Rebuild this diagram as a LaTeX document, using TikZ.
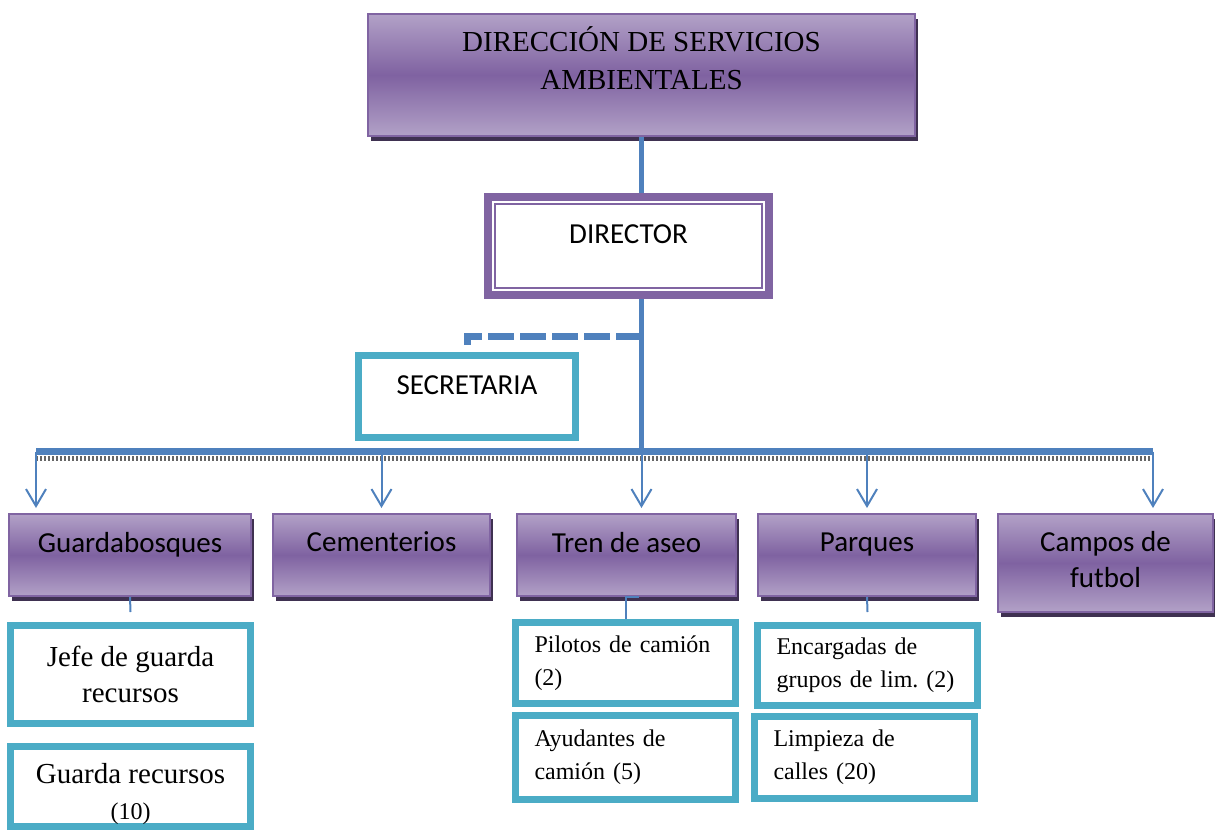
\documentclass[tikz,border=0pt]{standalone}
\usepackage{fontspec}
\setmainfont{Liberation Serif}
\setsansfont{Carlito}
\usetikzlibrary{arrows.meta, shadows}

\definecolor{lilaclaro}{HTML}{B2A1C7}
\definecolor{lilaoscuro}{HTML}{7F62A1}
\definecolor{lilaborde}{HTML}{8064A2}
\definecolor{sombra}{HTML}{3F3151}
\definecolor{azul}{HTML}{4F81BD}
\definecolor{turquesa}{HTML}{4BACC6}

\begin{document}
\begin{tikzpicture}[
    x=0.5pt, y=-0.5pt,
    >={Straight Barb[length=8.5pt, width=10pt]},
    unidad/.style={draw=lilaborde, line width=1pt, top color=lilaclaro, bottom color=lilaclaro, middle color=lilaoscuro,
        drop shadow={shadow xshift=1.5pt, shadow yshift=-2.5pt, fill=sombra, opacity=1},
        inner sep=0pt, align=center, minimum height=41pt, text depth=13pt, font=\sffamily\fontsize{14.5}{18}\selectfont},
    direccion/.style={unidad, font=\fontsize{14.5}{19}\selectfont, text depth=17pt},
    director/.style={draw=lilaborde, line width=4pt, fill=white, inner sep=0pt, text depth=12pt, font=\sffamily\fontsize{14.5}{18}\selectfont},
    directorint/.style={draw=lilaborde, line width=1pt},
    cuadro/.style={draw=turquesa, line width=3.5pt, fill=white, inner sep=0pt, align=center, font=\fontsize{14.5}{18}\selectfont},
    cuadrochico/.style={cuadro, align=left, text width=91pt, inner xsep=9.5pt, minimum width=110pt, font=\frenchspacing\fontsize{12}{16.5}\selectfont},
    enlace/.style={draw=azul, line width=2.5pt},
    punteado/.style={draw=azul, line width=3.5pt, dash pattern=on 13pt off 3pt},
    barra/.style={draw=azul, line width=3.5pt},
    barratrama/.style={draw=black!60, line width=2.5pt, dash pattern=on 1.2pt off 0.8pt},
    flecha/.style={->, draw=azul, line width=1pt, shorten >=2.5pt},
    tramo/.style={draw=azul, line width=1pt}
]

\useasboundingbox (0,0) rectangle (1215,830);

% ===== Dirección y director =====
\node[direccion, minimum width=273.5pt, minimum height=61pt] (direccion) at (641.5,75) {DIRECCIÓN DE SERVICIOS\\AMBIENTALES};

\node[director, minimum width=140.5pt, minimum height=49pt] (director) at (628.5,246) {DIRECTOR};
\draw[directorint] ([shift={(5.5pt,5.5pt)}]director.south west) rectangle ([shift={(-5.5pt,-5.5pt)}]director.north east);

\node[cuadro, minimum width=108.5pt, minimum height=41pt, text depth=11pt, font=\sffamily\fontsize{14.5}{18}\selectfont] (secretaria) at (467,396.5) {SECRETARIA};

% Puntos de la barra
\coordinate (cruce) at (641.5,336);
\coordinate (barraizq) at (36,451.5);
\coordinate (barrader) at (1153,451.5);

% ===== Unidades =====
\node[unidad, minimum width=121pt] (guardabosques) at (130,555) {Guardabosques};
\node[unidad, minimum width=108.5pt] (cementerios) at (381.5,555) {Cementerios};
\node[unidad, minimum width=109.5pt] (tren) at (626.5,555) {Tren de aseo};
\node[unidad, minimum width=109pt] (parques) at (867,555) {Parques};
\node[unidad, minimum width=107.5pt, minimum height=49pt, text depth=4pt] (campos) at (1105.5,563) {Campos de\\futbol};

% ===== Personal =====
\node[cuadro, minimum width=120pt, minimum height=49pt] (jefe) at (130.5,674.5) {Jefe de guarda\\recursos};
\node[cuadro, minimum width=120pt, minimum height=40pt, text height=36pt] (guardas) at (130.5,786.5) {Guarda recursos\\{\fontsize{12}{12}\selectfont(10)}};
\node[cuadrochico, minimum height=40.5pt] (pilotos) at (625.5,663) {Pilotos de camión\\(2)};
\node[cuadrochico, minimum height=42pt] (ayudantes) at (625.5,757.5) {Ayudantes de\\camión (5)};
\node[cuadrochico, minimum height=40pt] (encargadas) at (867.5,665.5) {Encargadas de\\grupos de lim. (2)};
\node[cuadrochico, minimum height=41pt] (limpieza) at (864.5,757.5) {Limpieza de\\calles (20)};

% ===== Enlaces =====
\draw[enlace] (direccion.south) -- (direccion.south |- director.north);
\draw[enlace] (cruce |- director.south) -- (cruce |- barraizq);
\draw[punteado] (cruce) -| ([yshift=3.5pt]secretaria.north);

\draw[barra] (barraizq) -- (barrader);
\draw[barratrama] ([yshift=-3.5pt]barraizq) -- ([yshift=-3.5pt]barrader);

\draw[flecha] (barraizq) -- (barraizq |- guardabosques.north);
\draw[flecha] (cementerios.north |- barraizq) -- (cementerios.north);
\draw[flecha] (cruce |- barraizq) -- (cruce |- tren.north);
\draw[flecha] (parques.north |- barraizq) -- (parques.north);
\draw[flecha] (barrader) -- (barrader |- campos.north);

\draw[tramo] (guardabosques.south) -- ([yshift=5pt]jefe.north);
\draw[tramo] ([xshift=6pt]tren.south) -| (pilotos.north);
\draw[tramo] (parques.south) -- ([yshift=5pt]encargadas.north);

\end{tikzpicture}
\end{document}
